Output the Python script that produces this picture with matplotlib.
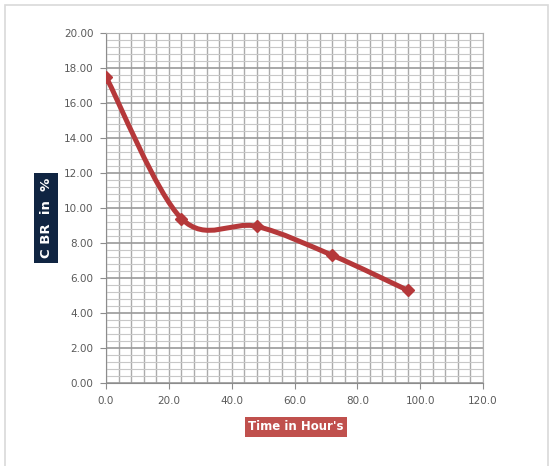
import numpy as np
import matplotlib
matplotlib.use("Agg")
import matplotlib.pyplot as plt
from matplotlib.path import Path
from matplotlib.patches import PathPatch, Rectangle
from matplotlib.ticker import MultipleLocator, FormatStrFormatter

# CBR test readings over soaking time
hours = [0, 24, 48, 72, 96]
cbr = [17.5, 9.4, 8.95, 7.3, 5.3]

line_color = "#B5383A"

fig = plt.figure(figsize=(5.56, 4.66), dpi=100)
fig.patch.set_facecolor("white")
# light frame around the chart area
fig.add_artist(Rectangle((5 / 556, -0.01), 543 / 556, 1 - 5 / 466 + 0.01,
                         transform=fig.transFigure, fill=False,
                         edgecolor="#D9D9D9", linewidth=1.2))

ax = fig.add_axes([106 / 556, 1 - 383 / 466, 377 / 556, 350 / 466])
ax.set_xlim(0, 120)
ax.set_ylim(0, 20)

ax.xaxis.set_major_locator(MultipleLocator(20))
ax.xaxis.set_minor_locator(MultipleLocator(4))
ax.yaxis.set_major_locator(MultipleLocator(2))
ax.yaxis.set_minor_locator(MultipleLocator(0.4))
ax.xaxis.set_major_formatter(FormatStrFormatter("%.1f"))
ax.yaxis.set_major_formatter(FormatStrFormatter("%.2f"))

ax.xaxis.grid(True, which="both", color="#ABABAB", linewidth=1.0)
ax.yaxis.grid(True, which="major", color="#9A9A9A", linewidth=1.2)
ax.yaxis.grid(True, which="minor", color="#C8C8C8", linewidth=0.8)
ax.set_axisbelow(True)

for side in ("top", "right"):
    ax.spines[side].set_color("#B0B0B0")
for side in ("left", "bottom"):
    ax.spines[side].set_color("#8C8C8C")

ax.tick_params(which="major", direction="out", length=4, color="#8C8C8C",
               labelsize=7.5, labelcolor="#5A5A5A", pad=5)
ax.tick_params(which="minor", length=0)

# smoothed curve through the points (Catmull-Rom style Bezier segments)
pts = np.column_stack([hours, cbr]).astype(float)
ext = np.vstack([pts[0], pts, pts[-1]])
verts = [tuple(pts[0])]
codes = [Path.MOVETO]
for i in range(len(pts) - 1):
    p0, p1, p2, p3 = ext[i], ext[i + 1], ext[i + 2], ext[i + 3]
    c1 = p1 + (p2 - p0) / 6.0
    c2 = p2 - (p3 - p1) / 6.0
    verts += [tuple(c1), tuple(c2), tuple(p2)]
    codes += [Path.CURVE4] * 3
ax.add_patch(PathPatch(Path(verts, codes), fill=False, edgecolor=line_color,
                       linewidth=3.6, capstyle="round", joinstyle="round",
                       zorder=3))
ax.plot(hours, cbr, linestyle="none", marker="D", markersize=6.5,
        color=line_color, zorder=4)

fig.text(46 / 556, 1 - 218 / 466, "C BR  in  %", rotation=90,
         ha="center", va="center", color="white", fontsize=9.5,
         fontweight="bold",
         bbox=dict(boxstyle="square,pad=0.4", facecolor="#102542",
                   edgecolor="none"))
fig.text(296 / 556, 1 - 427 / 466, "Time in Hour's", ha="center",
         va="center", color="white", fontsize=8.5, fontweight="bold",
         bbox=dict(boxstyle="square,pad=0.3", facecolor="#C0504D",
                   edgecolor="none"))

fig.savefig("out.png", dpi=100, facecolor="white")
